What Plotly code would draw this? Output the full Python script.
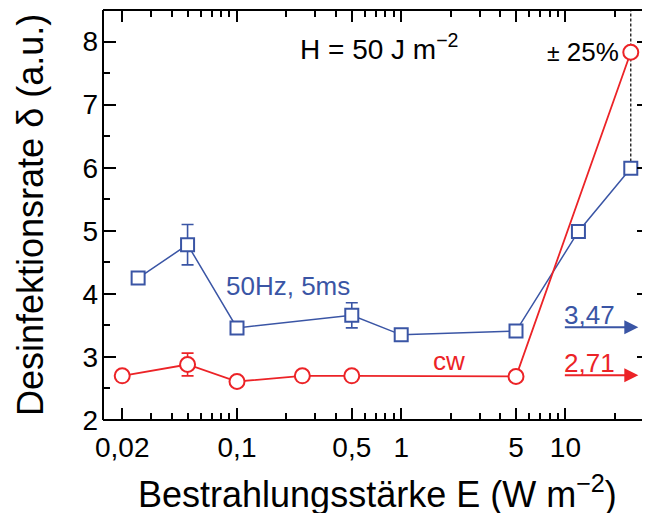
import math
import plotly.graph_objects as go

# ---- data ----
pulsed_E = [0.025, 0.05, 0.1, 0.5, 1, 5, 12, 25]
pulsed_delta = [4.25, 4.78, 3.46, 3.66, 3.35, 3.41, 4.99, 5.99]
pulsed_err_E = [0.05, 0.5]
pulsed_err_delta = [4.78, 3.66]
pulsed_err = [0.32, 0.2]

cw_E = [0.02, 0.05, 0.1, 0.25, 0.5, 5, 25]
cw_delta = [2.70, 2.88, 2.61, 2.70, 2.70, 2.69, 7.83]
cw_err_E = [0.05]
cw_err_delta = [2.88]
cw_err = [0.18]

pulsed_ref = 3.47
cw_ref = 2.71

x_tickvals = [0.02, 0.1, 0.5, 1, 5, 10]
x_ticktext = ["0,02", "0,1", "0,5", "1", "5", "10"]
x_minor = [0.03, 0.04, 0.05, 0.06, 0.07, 0.08, 0.09,
           0.2, 0.3, 0.4, 0.6, 0.7, 0.8, 0.9,
           2, 3, 4, 6, 7, 8, 9, 20, 30]

BLUE = "#3a55a5"
RED = "#ec2327"
FONT = "Liberation Sans, Arial, sans-serif"

fig = go.Figure()

# error bars (drawn first, under markers)
fig.add_trace(go.Scatter(
    x=pulsed_err_E, y=pulsed_err_delta, mode="markers",
    marker=dict(size=1, color="rgba(0,0,0,0)"),
    error_y=dict(type="data", array=pulsed_err, color=BLUE, thickness=1.6, width=6),
    showlegend=False, hoverinfo="skip"))
fig.add_trace(go.Scatter(
    x=cw_err_E, y=cw_err_delta, mode="markers",
    marker=dict(size=1, color="rgba(0,0,0,0)"),
    error_y=dict(type="data", array=cw_err, color=RED, thickness=1.6, width=6),
    showlegend=False, hoverinfo="skip"))

fig.add_trace(go.Scatter(
    x=pulsed_E, y=pulsed_delta, mode="lines+markers",
    line=dict(color=BLUE, width=1.5),
    marker=dict(symbol="square", size=13, color="white",
                line=dict(color=BLUE, width=2)),
    showlegend=False))
fig.add_trace(go.Scatter(
    x=cw_E, y=cw_delta, mode="lines+markers",
    line=dict(color=RED, width=1.8),
    marker=dict(symbol="circle", size=15, color="white",
                line=dict(color=RED, width=2)),
    showlegend=False))

# frame lines (left, top, bottom)
frame = dict(color="black", width=2)
shapes = [
    dict(type="line", xref="paper", yref="paper", x0=0, x1=0, y0=0, y1=1, line=frame),
    dict(type="line", xref="paper", yref="paper", x0=0, x1=1, y0=1, y1=1, line=frame),
    dict(type="line", xref="paper", yref="paper", x0=0, x1=1, y0=0, y1=0, line=frame),
    dict(type="line", xref="x", yref="y", x0=25, x1=25,
         y0=6.1, y1=8.5, line=dict(color="black", width=1.2, dash="3px,2px"),
         layer="below"),
]

def lx(px):
    # reference page pixel -> log10 data coordinate on x (for annotation positions)
    return -1 + (px - 236.7) / 164.2

annotations = [
    dict(text="H = 50 J m<sup>\u22122</sup>", x=lx(379), y=7.92, xref="x", yref="y",
         showarrow=False, font=dict(size=28, color="black", family=FONT)),
    dict(text="<span style='font-size:23px'>\u00b1</span> 25%", x=lx(621), y=7.83,
         xref="x", yref="y", xanchor="right",
         showarrow=False, font=dict(size=26, color="black", family=FONT)),
    dict(text="50Hz, 5ms", x=lx(288), y=4.12, xref="x", yref="y",
         showarrow=False, font=dict(size=26, color=BLUE, family=FONT)),
    dict(text="cw", x=lx(449), y=2.93, xref="x", yref="y",
         showarrow=False, font=dict(size=26, color=RED, family=FONT)),
    dict(text="3,47", x=lx(562), y=pulsed_ref + 0.19, xref="x", yref="y", xanchor="left",
         showarrow=False, font=dict(size=26, color=BLUE, family=FONT)),
    dict(text="2,71", x=lx(562), y=cw_ref + 0.19, xref="x", yref="y", xanchor="left",
         showarrow=False, font=dict(size=26, color=RED, family=FONT)),
    dict(text="", x=lx(638), y=pulsed_ref, xref="x", yref="y", showarrow=True,
         ax=-75, ay=0, arrowhead=2, arrowsize=1.4, arrowwidth=2, arrowcolor=BLUE),
    dict(text="", x=lx(638), y=cw_ref, xref="x", yref="y", showarrow=True,
         ax=-75, ay=0, arrowhead=2, arrowsize=1.4, arrowwidth=2, arrowcolor=RED),
    dict(text="Desinfektionsrate \u03b4 (a.u.)", xref="paper", yref="paper",
         x=(30 - 103) / 547, y=0.5, xanchor="center", yanchor="middle",
         textangle=-90, showarrow=False,
         font=dict(size=36, color="black", family=FONT)),
    dict(text="Bestrahlungsst\u00e4rke E (W m<sup>\u22122</sup>)", xref="paper", yref="paper",
         x=0.502, y=(420 - 492) / 410, xanchor="center", yanchor="middle",
         showarrow=False, font=dict(size=36, color="black", family=FONT)),
]

# page body has an 8px margin: shift the figure so the plot area lands where the reference has it
fig.update_layout(
    width=650, height=513,
    margin=dict(l=95, r=8, t=2, b=101, autoexpand=False),
    paper_bgcolor="white", plot_bgcolor="white",
    font=dict(family=FONT, color="black"),
    shapes=shapes, annotations=annotations,
    xaxis=dict(type="log", range=[-1.816, 1.515], showgrid=False, zeroline=False,
               showline=False, mirror="ticks", ticks="inside", ticklen=12, tickwidth=2,
               tickcolor="black", tickvals=x_tickvals, ticktext=x_ticktext,
               tickfont=dict(size=28, family=FONT), ticklabelstandoff=8,
               minor=dict(tickvals=x_minor, ticks="inside", ticklen=7, tickwidth=2,
                          tickcolor="black", showgrid=False)),
    yaxis=dict(range=[2, 8.5], showgrid=False, zeroline=False, showline=False,
               mirror="ticks", ticks="inside", ticklen=13, tickwidth=2,
               tickcolor="black", tickvals=[2, 3, 4, 5, 6, 7, 8],
               tickfont=dict(size=28, family=FONT), ticklabelstandoff=4,
               minor=dict(dtick=0.5, ticks="inside", ticklen=7, tickwidth=2,
                          tickcolor="black", showgrid=False)),
)

fig.write_html("out.html")
